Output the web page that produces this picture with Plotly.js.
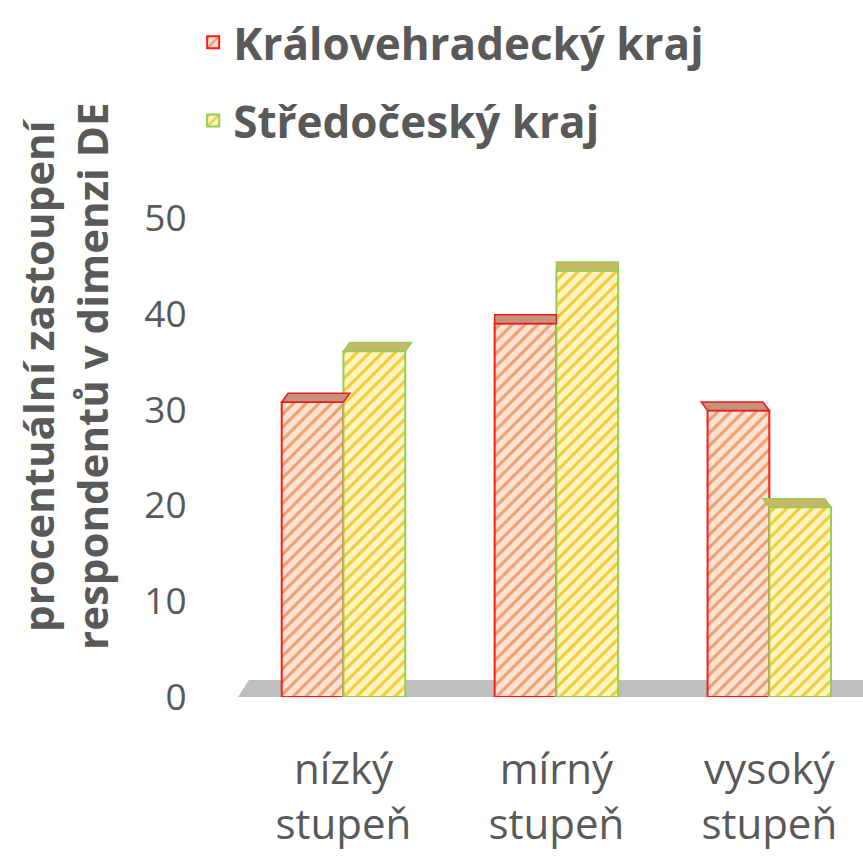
<!DOCTYPE html>
<html><head><meta charset="utf-8">
<script src="https://cdn.plot.ly/plotly-3.0.1.min.js"></script>
<style>html,body{margin:0;padding:0;background:#fff}#chart{width:863px;height:864px}</style>
</head><body><div id="chart"></div>
<script>
const categories = ["nízký<br>stupeň", "mírný<br>stupeň", "vysoký<br>stupeň"];
const seriesNames = ["Královehradecký kraj", "Středočeský kraj"];
const kralovehradecky = [30.8, 39.0, 29.9];
const stredocesky = [36.1, 44.5, 19.8];
const yTicks = [0, 10, 20, 30, 40, 50];
const yTitle = "procentuální zastoupení<br>respondentů v dimenzi DE";

const FONT = "Open Sans, sans-serif";
const GRAY = "#595959";
const BARW = 0.29;

const traces = [
  {type:'bar', name:seriesNames[0], legendgroup:'a', x:[0,1,2], y:kralovehradecky, width:BARW, offset:-BARW,
   marker:{color:'#fde3d3', line:{color:'#ff1a1a', width:2},
     pattern:{shape:'/', fgcolor:'#f0a070', bgcolor:'#fde3d3', size:9, solidity:0.35, fillmode:'replace'}}},
  {type:'bar', name:seriesNames[1], legendgroup:'b', x:[0,1,2], y:stredocesky, width:BARW, offset:0,
   marker:{color:'#fff5c0', line:{color:'#92d050', width:2},
     pattern:{shape:'/', fgcolor:'#f3cc3c', bgcolor:'#fff5c0', size:9, solidity:0.35, fillmode:'replace'}}}
];

// pseudo-3D top faces derived from the data
const shapes = [
  {type:'path', xref:'paper', yref:'paper', layer:'below',
   path:'M 0.0016 0 L 1 0 L 1 0.0355 L 0.019 0.0355 Z',
   fillcolor:'#bfbfbf', line:{width:0}}
];
const depthY = 0.9;
[[kralovehradecky, -BARW, '#c9917c', '#e02020'], [stredocesky, 0, '#c8b66a', '#92d050']].forEach(([vals, off, fc, lc]) => {
  vals.forEach((v, i) => {
    const dx = -(i - 1) * 0.03;
    const x0 = i + off, x1 = i + off + BARW;
    shapes.push({type:'path', xref:'x', yref:'y', layer:'above',
      path:`M ${x0} ${v} L ${x1} ${v} L ${x1+dx} ${v+depthY} L ${x0+dx} ${v+depthY} Z`,
      fillcolor:fc, line:{color:lc, width:1.5}});
  });
});

const layout = {
  width:863, height:864,
  margin:{l:237, r:0, t:218, b:167},
  paper_bgcolor:'#fff', plot_bgcolor:'rgba(0,0,0,0)',
  barmode:'overlay',
  font:{family:FONT, color:GRAY},
  xaxis:{range:[-0.5,2.44], tickvals:[0,1,2], ticktext:categories,
    showgrid:false, zeroline:false, showline:false,
    ticks:'outside', ticklen:36, tickcolor:'rgba(0,0,0,0)',
    tickfont:{size:42, color:GRAY, family:FONT}},
  yaxis:{range:[0,50], tickvals:yTicks, showgrid:false, zeroline:false, showline:false,
    ticks:'outside', ticklen:42, tickcolor:'rgba(0,0,0,0)',
    tickfont:{size:37, color:GRAY, family:FONT}},
  showlegend:true,
  legend:{x:-0.07, xanchor:'left', y:1.44, yanchor:'top', orientation:'v',
    font:{size:44, color:GRAY, family:FONT, weight:'bold'}, tracegroupgap:18,
    bgcolor:'rgba(0,0,0,0)'},
  shapes:shapes,
  annotations:[
    {xref:'paper', yref:'paper', x:-0.275, y:0.67, text:yTitle, showarrow:false,
     textangle:-90, xanchor:'center', yanchor:'middle',
     font:{size:42, color:GRAY, family:FONT, weight:'bold'}}
  ]
};
Plotly.newPlot('chart', traces, layout, {displayModeBar:false});
</script></body></html>
